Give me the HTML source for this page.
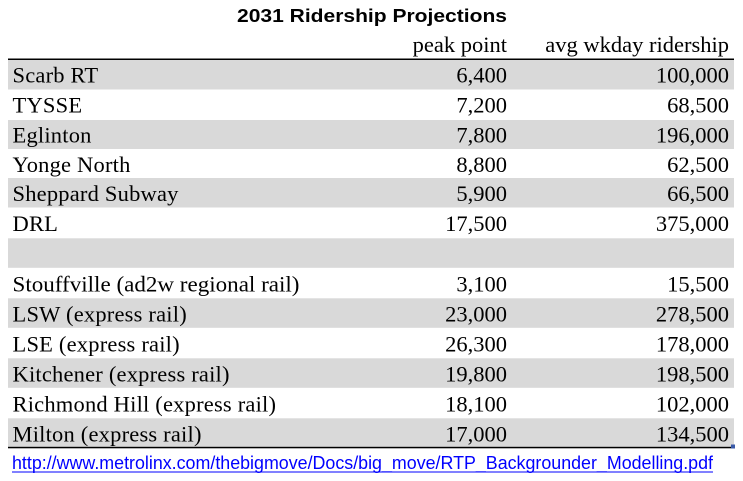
<!DOCTYPE html>
<html>
<head>
<meta charset="utf-8">
<style>
  html, body { margin: 0; padding: 0; background: #fff; }
  body { width: 743px; height: 481px; overflow: hidden; }
  svg { display: block; }
  .t { font-family: "Liberation Serif", "Times New Roman", serif; font-size: 22.5px; fill: #000; }
  .l { letter-spacing: 0.2px; }
  .r { text-anchor: end; }
</style>
</head>
<body>
<svg width="743" height="481" viewBox="0 0 743 481" xmlns="http://www.w3.org/2000/svg">
  <rect x="0" y="0" width="743" height="481" fill="#fff"/>
  <!-- title -->
  <text x="237" y="22" font-family="'Liberation Sans', Arial, sans-serif" font-weight="bold" font-size="18" textLength="270" lengthAdjust="spacingAndGlyphs" fill="#000">2031 Ridership Projections</text>
  <!-- header -->
  <text class="t r" x="507" y="52">peak point</text>
  <text class="t r" x="729" y="52">avg wkday ridership</text>
  <!-- gray bands -->
  <rect x="8" y="60" width="726" height="29.5" fill="#d9d9d9"/>
  <rect x="8" y="120" width="726" height="29" fill="#d9d9d9"/>
  <rect x="8" y="178" width="726" height="29.5" fill="#d9d9d9"/>
  <rect x="8" y="238.3" width="726" height="29.5" fill="#d9d9d9"/>
  <rect x="8" y="298.3" width="726" height="29.5" fill="#d9d9d9"/>
  <rect x="8" y="358.3" width="726" height="29.5" fill="#d9d9d9"/>
  <rect x="8" y="418.3" width="726" height="29" fill="#d9d9d9"/>
  <!-- lines -->
  <rect x="8" y="58.5" width="726" height="1.5" fill="#000"/>
  <rect x="8" y="446.8" width="726" height="1.5" fill="#000"/>
  <rect x="731" y="444.5" width="4" height="4" fill="#3a5aa8"/>
  <!-- rows -->
  <text class="t l" x="12.5" y="82.5">Scarb RT</text>
  <text class="t r" x="507" y="82.5">6,400</text>
  <text class="t r" x="729" y="82.5">100,000</text>

  <text class="t l" x="12.5" y="112.5">TYSSE</text>
  <text class="t r" x="507" y="112.5">7,200</text>
  <text class="t r" x="729" y="112.5">68,500</text>

  <text class="t l" x="12.5" y="142.5">Eglinton</text>
  <text class="t r" x="507" y="142.5">7,800</text>
  <text class="t r" x="729" y="142.5">196,000</text>

  <text class="t l" x="12.5" y="172">Yonge North</text>
  <text class="t r" x="507" y="172">8,800</text>
  <text class="t r" x="729" y="172">62,500</text>

  <text class="t l" x="12.5" y="201">Sheppard Subway</text>
  <text class="t r" x="507" y="201">5,900</text>
  <text class="t r" x="729" y="201">66,500</text>

  <text class="t l" x="12.5" y="231">DRL</text>
  <text class="t r" x="507" y="231">17,500</text>
  <text class="t r" x="729" y="231">375,000</text>

  <text class="t" x="12.5" y="291.5" textLength="287" lengthAdjust="spacingAndGlyphs">Stouffville (ad2w regional rail)</text>
  <text class="t r" x="507" y="291.5">3,100</text>
  <text class="t r" x="729" y="291.5">15,500</text>

  <text class="t l" x="12.5" y="321.5">LSW (express rail)</text>
  <text class="t r" x="507" y="321.5">23,000</text>
  <text class="t r" x="729" y="321.5">278,500</text>

  <text class="t l" x="12.5" y="351.5">LSE (express rail)</text>
  <text class="t r" x="507" y="351.5">26,300</text>
  <text class="t r" x="729" y="351.5">178,000</text>

  <text class="t l" x="12.5" y="381.5">Kitchener (express rail)</text>
  <text class="t r" x="507" y="381.5">19,800</text>
  <text class="t r" x="729" y="381.5">198,500</text>

  <text class="t l" x="12.5" y="411.5">Richmond Hill (express rail)</text>
  <text class="t r" x="507" y="411.5">18,100</text>
  <text class="t r" x="729" y="411.5">102,000</text>

  <text class="t l" x="12.5" y="441.5">Milton (express rail)</text>
  <text class="t r" x="507" y="441.5">17,000</text>
  <text class="t r" x="729" y="441.5">134,500</text>

  <!-- url -->
  <text x="12" y="469" font-family="'Liberation Sans', Arial, sans-serif" font-size="18.5" fill="#0000ff" textLength="701" lengthAdjust="spacingAndGlyphs">http://www.metrolinx.com/thebigmove/Docs/big_move/RTP_Backgrounder_Modelling.pdf</text>
  <rect x="12" y="471.5" width="701" height="1" fill="#0000ff"/>
</svg>
</body>
</html>
